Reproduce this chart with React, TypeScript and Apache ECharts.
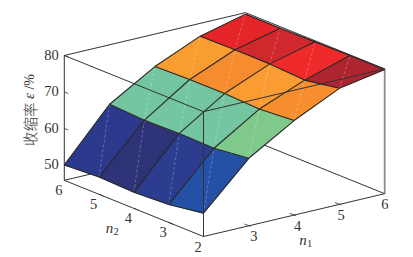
import React, { useEffect, useRef } from "react";
import * as echarts from "echarts";

const n1Ticks = [2, 3, 4, 5, 6];
const n2Ticks = [6, 5, 4, 3, 2];
const zTicks = [50, 60, 70, 80];
const zMin = 45.8;
const zMax = 80;

// shrinkage: one row per n1, one column per n2 (6 → 2)
const shrink2 = [50.0, 50.55, 50.2, 50.7, 52.2];
const shrink3 = [63.7, 63.2, 63.4, 63.2, 64.3];
const shrink4 = [71.1, 71.4, 71.4, 71.0, 71.7];
const shrink5 = [76.5, 76.6, 76.6, 76.0, 77.6];
const shrink6 = [79.6, 79.6, 79.7, 79.8, 79.8];
const surface = [shrink2, shrink3, shrink4, shrink5, shrink6];

const bandBlue = ["#2b3a8c", "#2e3378", "#2c3c8e", "#2450a5"];
const bandGreen = ["#73c6a0", "#73c6a0", "#73c6a0", "#7fc98b"];
const bandOrange = ["#f99d30", "#f78c2e", "#fa9c32", "#f78f2e"];
const bandRed = ["#e52528", "#d1282e", "#ef2a2a", "#ad2530"];
const bands = [bandBlue, bandGreen, bandOrange, bandRed];

const FONT = "Liberation Serif, Noto Sans CJK SC, serif";
const INK = "#333333";

// oblique projection of the 3-D box onto the page
function project(n1: number, n2: number, z: number): number[] {
  return [
    203.5 + 45.3 * (n1 - 2) - 34.8 * (n2 - 2),
    236.5 - 10.7 * (n1 - 2) - 14.05 * (n2 - 2) - (z - zMin) * 3.65,
  ];
}

function seg(api: any, a: number[], b: number[], stroke: string, lineWidth: number, extra: any = {}) {
  const p = api.coord(a);
  const q = api.coord(b);
  return {
    type: "line",
    shape: { x1: p[0], y1: p[1], x2: q[0], y2: q[1] },
    style: { stroke, lineWidth, ...extra },
  };
}

function label(api: any, at: number[], text: string, fontSize = 14.5, italic = false) {
  const p = api.coord(at);
  return {
    type: "text",
    x: p[0],
    y: p[1],
    style: {
      text,
      fontSize,
      fontFamily: FONT,
      fontStyle: italic ? "italic" : "normal",
      fill: INK,
      textAlign: "center",
      textVerticalAlign: "middle",
    },
  };
}

const cellData: number[][] = [];
bands.forEach((row, i) => row.forEach((_, j) => cellData.push([i, j])));

const meshData: number[][] = [];
surface.forEach((row, i) =>
  row.forEach((_, j) => {
    if (i < surface.length - 1) meshData.push([i, j, 0]);
    if (j < row.length - 1) meshData.push([i, j, 1]);
  })
);

const edgesBack = [
  [2, 6, zMin, 6, 6, zMin],
  [6, 6, zMin, 6, 2, zMin],
  [2, 6, zMax, 6, 6, zMax],
  [6, 6, zMax, 6, 2, zMax],
  [2, 6, zMin, 2, 6, zMax],
];
const edgesFront = [
  [2, 6, zMin, 2, 2, zMin],
  [2, 2, zMin, 6, 2, zMin],
  [2, 6, zMax, 2, 2, zMax],
  [2, 2, zMax, 6, 2, zMax],
  [2, 2, zMin, 2, 2, zMax],
];

function renderCell(_: any, api: any) {
  const i = api.value(0);
  const j = api.value(1);
  const at = (a: number, b: number) => {
    const c = project(n1Ticks[a], n2Ticks[b], surface[a][b]);
    return api.coord(c);
  };
  const fill = bands[i][j];
  const pts = [at(i, j), at(i + 1, j), at(i + 1, j + 1), at(i, j + 1)];
  return {
    type: "group",
    children: [
      { type: "polygon", shape: { points: pts }, style: { fill, stroke: fill, lineWidth: 0.4 } },
      {
        type: "line",
        shape: { x1: pts[3][0], y1: pts[3][1], x2: pts[1][0], y2: pts[1][1] },
        style: { stroke: "rgba(255,255,255,0.32)", lineWidth: 0.8, lineDash: [3, 2] },
      },
    ],
  };
}

function renderMesh(_: any, api: any) {
  const i = api.value(0);
  const j = api.value(1);
  const dir = api.value(2);
  const a = project(n1Ticks[i], n2Ticks[j], surface[i][j]);
  const ni = dir === 0 ? i + 1 : i;
  const nj = dir === 1 ? j + 1 : j;
  const b = project(n1Ticks[ni], n2Ticks[nj], surface[ni][nj]);
  return seg(api, a, b, "#262626", 1.1);
}

function renderEdge(_: any, api: any) {
  const v = [0, 1, 2, 3, 4, 5].map((k) => api.value(k));
  return seg(api, project(v[0], v[1], v[2]), project(v[3], v[4], v[5]), "#333", 1);
}

function renderRightPost(_: any, api: any) {
  return seg(api, project(6, 2, zMin), project(6, 2, zMax), "#8a8a8a", 1.8);
}

function renderDecor(_: any, api: any) {
  const kids: any[] = [];
  zTicks.forEach((t) => {
    const p = project(2, 6, t);
    kids.push(seg(api, p, [p[0] + 4, p[1] + 1.5], INK, 0.8));
    kids.push(label(api, [51.5, p[1] - 0.5], String(t)));
  });
  n2Ticks.forEach((t) => {
    const p = project(2, t, zMin);
    if (t !== 6 && t !== 2) kids.push(seg(api, p, [p[0] + 4.5, p[1] + 1.8], INK, 0.8));
    kids.push(label(api, [p[0] - 5.5, p[1] + 10], String(t)));
  });
  n1Ticks.forEach((t) => {
    const p = project(t, 2, zMin);
    if (t !== 6 && t !== 2) kids.push(seg(api, [p[0] + 2, p[1] + 0.5], [p[0] - 4.5, p[1] - 1.8], INK, 0.8));
    if (t !== 2) kids.push(label(api, [p[0] + 5 - (t - 3) * 1.6, p[1] + 10.5], String(t)));
  });
  kids.push(label(api, [109.5, 227.5], "n", 15, true));
  kids.push(label(api, [116, 231], "2", 10.5));
  kids.push(label(api, [303, 239.5], "n", 15, true));
  kids.push(label(api, [309.5, 243], "1", 10.5));
  const yl = api.coord([29, 110]);
  kids.push({
    type: "text",
    x: yl[0],
    y: yl[1],
    rotation: Math.PI / 2,
    style: {
      text: "{c|收缩率} {e|ε} {r|/%}",
      fontSize: 14,
      fontFamily: FONT,
      fill: INK,
      textAlign: "center",
      textVerticalAlign: "middle",
      rich: {
        c: { fontSize: 14.5, fontFamily: "Noto Sans CJK SC", fontWeight: 300, fill: INK },
        e: { fontSize: 15, fontFamily: FONT, fontStyle: "italic", fill: INK },
        r: { fontSize: 14, fontFamily: FONT, fill: INK },
      },
    },
  });
  return { type: "group", children: kids };
}

export default function App() {
  const ref = useRef<HTMLDivElement>(null);
  useEffect(() => {
    const chart = echarts.init(ref.current!, undefined, { renderer: "svg" });
    const base = { type: "custom", coordinateSystem: "cartesian2d", silent: true, clip: false };
    chart.setOption({
      animation: false,
      backgroundColor: "#fff",
      grid: { left: 0, right: 0, top: 0, bottom: 0 },
      xAxis: { type: "value", min: 0, max: 413, show: false },
      yAxis: { type: "value", min: 0, max: 257, inverse: true, show: false },
      series: [
        { ...base, z: 1, data: edgesBack, renderItem: renderEdge, encode: { x: 0, y: 1 } },
        { ...base, z: 2, data: [[6, 2]], renderItem: renderRightPost, encode: { x: 0, y: 1 } },
        { ...base, z: 3, data: cellData, renderItem: renderCell, encode: { x: 0, y: 1 } },
        { ...base, z: 4, data: meshData, renderItem: renderMesh, encode: { x: 0, y: 1 } },
        { ...base, z: 5, data: edgesFront, renderItem: renderEdge, encode: { x: 0, y: 1 } },
        { ...base, z: 6, data: [[0, 0]], renderItem: renderDecor, encode: { x: 0, y: 1 } },
      ],
    });
    return () => chart.dispose();
  }, []);
  return <div ref={ref} style={{ position: "fixed", left: 0, top: 0, width: 413, height: 257 }} />;
}
